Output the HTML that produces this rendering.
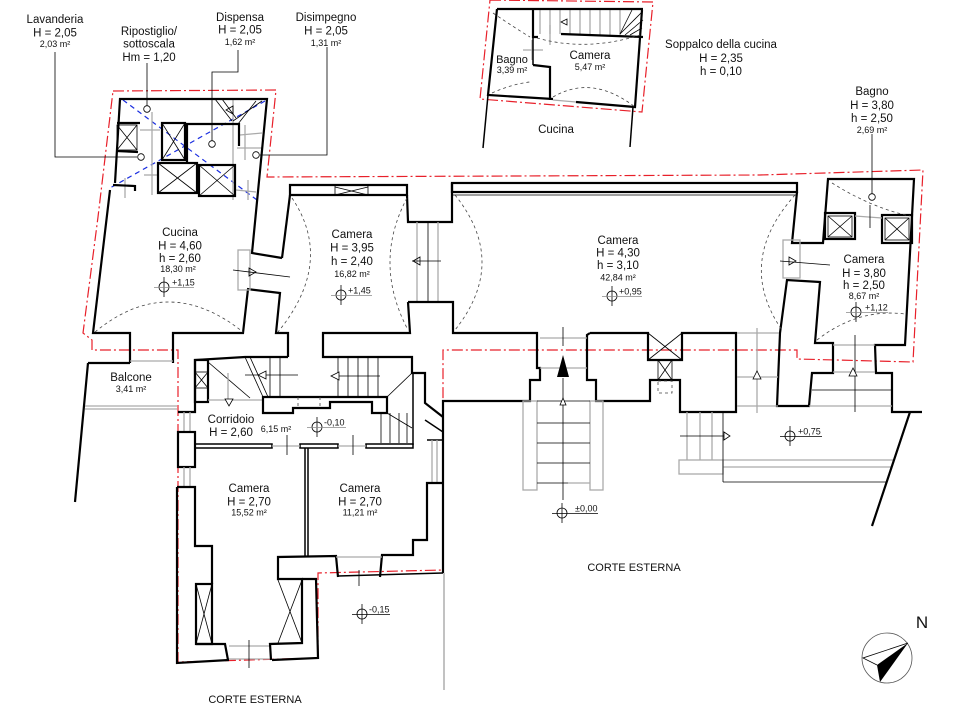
<!DOCTYPE html>
<html><head><meta charset="utf-8"><style>
html,body{margin:0;padding:0;background:#fff;}
svg{display:block;}
.w{stroke:#000;stroke-width:2.2;fill:none;stroke-linejoin:miter;}
.m{stroke:#000;stroke-width:1.5;fill:none;}
.t{stroke:#000;stroke-width:0.8;fill:none;}
.g{stroke:#aaa;stroke-width:1.3;fill:none;}
.d{stroke:#444;stroke-width:0.8;stroke-dasharray:3 3;fill:none;}
.r{stroke:#e8202a;stroke-width:1.2;stroke-dasharray:11 3 2 3;fill:none;}
.b{stroke:#1a2ee0;stroke-width:1.2;stroke-dasharray:5 4;fill:none;}
text{font-family:"Liberation Sans",Arial,sans-serif;fill:#111;}
.L{font-size:11.5px;text-anchor:middle;}
.S{font-size:9px;text-anchor:middle;}
.P{font-size:9px;}
</style></head><body>
<svg width="971" height="709" viewBox="0 0 971 709" xmlns="http://www.w3.org/2000/svg">
<rect width="971" height="709" fill="#fff"/>

<!-- red dash-dot outlines -->
<polyline class="r" points="113,91 276,90 267,177 760,175 923,170 913,362 797,359 797,350 443,350 443,570 318,573 318,658 178,662 178,350 92,350 92,340 83,333 98,217 113,91"/>
<polygon class="r" points="490,0 653,2 642,112 480,99"/>

<!-- blue dashed diagonals -->
<line class="b" x1="123" y1="100" x2="257" y2="200"/>
<line class="b" x1="265" y1="101" x2="110" y2="188"/>

<!-- utility block gray grid -->
<g class="g">
<line x1="152" y1="112" x2="152" y2="195"/>
<line x1="233" y1="100" x2="233" y2="200"/>
<line x1="245" y1="125" x2="245" y2="160"/>
<line x1="140" y1="130" x2="160" y2="130"/>
<line x1="240" y1="135" x2="262" y2="133"/>
<line x1="237" y1="148" x2="262" y2="148"/>
<line x1="144" y1="175" x2="158" y2="175"/>
<line x1="236" y1="190" x2="256" y2="192"/>
<line x1="248" y1="180" x2="248" y2="200"/>
<line x1="125" y1="178" x2="125" y2="198"/>
</g>
<g class="t">
<line x1="215" y1="99" x2="232" y2="121"/>
<line x1="222" y1="99" x2="236" y2="118"/>
<line x1="262" y1="101" x2="233" y2="121"/>
<line x1="256" y1="101" x2="238" y2="124"/>
<polygon points="226,110 233,106 233,114"/>
</g>

<!-- utility block walls -->
<polyline class="w" points="115,183 120,99 267,99 252,253 282,258"/>
<polyline class="w" points="113,185 135,186 135,191"/>
<polyline class="w" points="117,123 140,123"/>
<polyline class="w" points="117,151 138,152"/>
<rect class="t" x="117" y="125" width="20" height="25"/>
<line class="t" x1="117" y1="125" x2="137" y2="150"/><line class="t" x1="137" y1="125" x2="117" y2="150"/>
<rect class="w" x="162" y="123" width="23" height="37"/>
<line class="t" x1="162" y1="123" x2="185" y2="160"/><line class="t" x1="185" y1="123" x2="162" y2="160"/>
<polyline class="w" points="187,162 187,124 239,124 239,146"/>
<rect class="w" x="158" y="163" width="39" height="30"/>
<line class="t" x1="158" y1="163" x2="197" y2="193"/><line class="t" x1="197" y1="163" x2="158" y2="193"/>
<rect class="w" x="199" y="165" width="36" height="31"/>
<line class="t" x1="199" y1="165" x2="235" y2="196"/><line class="t" x1="235" y1="165" x2="199" y2="196"/>

<!-- leaders -->
<polyline class="t" points="55,52 55,157 137,157"/><circle class="t" cx="141" cy="157" r="3.3" fill="#fff"/>
<line class="t" x1="147" y1="63" x2="147" y2="106"/><circle class="t" cx="147" cy="109" r="3.3" fill="#fff"/>
<polyline class="t" points="238,50 238,72 212,72 212,141"/><circle class="t" cx="212" cy="144" r="3.3" fill="#fff"/>
<polyline class="t" points="327,47 327,155 260,155"/><circle class="t" cx="256" cy="155" r="3.3" fill="#fff"/>
<line class="t" x1="872" y1="134" x2="872" y2="194"/><circle class="t" cx="872" cy="197" r="3.3" fill="#fff"/>

<!-- Soppalco block -->
<g class="g">
<line x1="540" y1="10" x2="540" y2="34"/><line x1="550" y1="10" x2="550" y2="34"/>
<line x1="560" y1="10" x2="560" y2="34"/><line x1="570" y1="10" x2="570" y2="35"/>
<line x1="580" y1="10" x2="580" y2="35"/><line x1="590" y1="10" x2="590" y2="35"/>
<line x1="600" y1="10" x2="600" y2="35"/><line x1="610" y1="10" x2="610" y2="35"/>
<line x1="620" y1="10" x2="620" y2="35"/>
<line x1="523" y1="50" x2="543" y2="50"/><line x1="532" y1="40" x2="532" y2="60"/>
<line x1="550" y1="25" x2="550" y2="45"/>
<line x1="553" y1="100" x2="576" y2="102"/>
</g>
<g class="t">
<line x1="620" y1="34" x2="642" y2="12"/><line x1="625" y1="35" x2="643" y2="20"/>
<line x1="630" y1="35" x2="642" y2="28"/><line x1="620" y1="34" x2="632" y2="10"/>
<polygon points="561,22 567,19 567,25"/>
</g>
<polyline class="w" points="497,9 643,9"/>
<polyline class="w" points="642,10 635,107 576,102"/>
<polyline class="w" points="497,9 488,95 553,99"/>
<polyline class="w" points="533,9 533,37 538,37"/>
<polyline class="w" points="533,65 550,67 550,100"/>
<line class="m" x1="533" y1="37" x2="533" y2="65"/>
<polyline class="w" points="561,34 643,37"/>
<line class="m" x1="488" y1="95" x2="483" y2="148"/>
<line class="m" x1="633" y1="107" x2="630" y2="147"/>
<path class="d" d="M493,13 Q515,28 530,37"/>
<path class="d" d="M492,93 Q512,84 530,82"/>
<path class="d" d="M537,38 Q587,52 640,35"/>
<path class="d" d="M553,97 Q592,74 635,107"/>

<!-- Cucina / Camera 3.95 walls -->
<polyline class="w" points="110,190 93,333 130,333 130,363"/>
<polyline class="w" points="173,363 173,333 243,333 248,289"/>
<polyline class="w" points="247,289 280,293 276,333 288,333 288,357"/>
<polygon class="w" points="290,185 407,185 407,195 290,195"/>
<line class="w" x1="290" y1="195" x2="282" y2="258"/>
<line class="t" x1="335" y1="185" x2="335" y2="195"/><line class="t" x1="368" y1="185" x2="368" y2="195"/>
<line class="t" x1="335" y1="187" x2="368" y2="195"/><line class="t" x1="335" y1="195" x2="368" y2="187"/>
<polyline class="w" points="407,195 408,222 452,222 452,183"/>
<!-- door cucina-camera -->
<rect class="g" x="238" y="250" width="12" height="40"/>
<line class="t" x1="233" y1="270" x2="290" y2="277"/>
<polygon class="t" points="249,268 256,272 249,276" fill="#fff"/>
<!-- passage 3.95 - 4.30 -->
<line class="g" x1="417" y1="222" x2="417" y2="302"/>
<line class="t" x1="428" y1="222" x2="428" y2="302"/>
<line class="g" x1="438" y1="222" x2="438" y2="302"/>
<line class="t" x1="412" y1="261" x2="441" y2="261"/>
<polygon class="t" points="413,261 420,257 420,265" fill="#fff"/>

<!-- Camera 4.30 -->
<rect class="w" x="452" y="183" width="345" height="9"/>
<line class="t" x1="452" y1="195" x2="797" y2="195"/>
<polyline class="w" points="797,192 792,243 823,243 828,179 914,179 905,345 875,345 876,373 892,373 892,412 922,412"/>
<polygon class="w" points="820,282 787,280 780,333 777,406 809,406 812,373 833,373 833,343 815,343"/>
<rect class="g" x="783" y="240" width="17" height="38"/>
<line class="t" x1="780" y1="261" x2="830" y2="265"/>
<polygon class="t" points="789,257 796,261 789,265" fill="#fff"/>
<polyline class="w" points="408,302 453,302 453,333 537,333 537,368 540,368 540,380 530,380 530,401 443,401 443,573"/>
<polyline class="w" points="408,302 410,333 323,333 323,357 412,357 412,373 425,373 425,403 443,417"/>
<line class="m" x1="425" y1="420" x2="443" y2="432"/>
<line class="m" x1="413" y1="373" x2="413" y2="445"/>
<polyline class="w" points="590,333 648,333 648,360 682,360 682,333 736,333 736,412 680,412 680,380 650,380 650,401 596,401 596,380 587,380 587,335 590,333"/>
<line class="t" x1="648" y1="333" x2="682" y2="360"/><line class="t" x1="682" y1="333" x2="648" y2="360"/>
<rect class="t" x="658" y="360" width="14" height="20"/>
<line class="t" x1="658" y1="360" x2="672" y2="380"/><line class="t" x1="672" y1="360" x2="658" y2="380"/>
<rect class="d" x="658" y="381" width="14" height="12"/>
<line class="g" x1="737" y1="333" x2="779" y2="333"/>

<!-- entrance -->
<line class="g" x1="540" y1="338" x2="587" y2="338"/>
<line class="g" x1="540" y1="368" x2="587" y2="368"/>
<line class="t" x1="563" y1="327" x2="563" y2="346"/>
<line class="t" x1="563" y1="378" x2="563" y2="500"/>
<polygon points="563,355 557,377 569,377" fill="#000"/>
<rect class="g" x="523" y="401" width="14" height="89"/>
<rect class="g" x="590" y="401" width="13" height="89"/>
<g class="t">
<line x1="537" y1="401" x2="590" y2="401"/>
<line x1="537" y1="423" x2="590" y2="423"/><line x1="537" y1="443" x2="590" y2="443"/>
<line x1="537" y1="463" x2="590" y2="463"/><line x1="537" y1="483" x2="568" y2="483"/>
<polygon points="560,405 563,398 566,405" fill="#fff"/>
</g>
<line class="g" x1="568" y1="483" x2="590" y2="483"/>

<!-- right lower -->
<g class="g">
<line x1="737" y1="377" x2="778" y2="377"/><line x1="737" y1="406" x2="778" y2="406"/>
<line x1="757" y1="328" x2="757" y2="413"/>
<line x1="833" y1="345" x2="875" y2="345"/><line x1="833" y1="372" x2="875" y2="372"/>
<line x1="809" y1="406" x2="892" y2="406"/>
<line x1="687" y1="412" x2="687" y2="460"/><line x1="700" y1="412" x2="700" y2="460"/>
<line x1="712" y1="412" x2="712" y2="460"/>
<rect x="679" y="460" width="44" height="14"/>
<line x1="723" y1="460" x2="893" y2="460"/><line x1="723" y1="467" x2="891" y2="467"/>
</g>
<g class="t">
<line x1="855" y1="335" x2="855" y2="412"/>
<polygon points="753,379 757,371 761,379" fill="#fff"/>
<polygon points="849,376 853,368 857,376" fill="#fff"/>
<line x1="812" y1="390" x2="892" y2="390"/>
<line x1="723" y1="412" x2="723" y2="482"/>
<line x1="723" y1="482" x2="887" y2="482"/>
<line x1="680" y1="436" x2="725" y2="436"/>
<polygon points="724,432 730,436 724,440" fill="#fff"/>
</g>
<line class="w" x1="910" y1="412" x2="872" y2="526"/>

<!-- Camera 3.80 internals -->
<rect class="w" x="825" y="213" width="30" height="26"/>
<rect class="t" x="828" y="216" width="24" height="21"/>
<line class="t" x1="828" y1="216" x2="852" y2="237"/><line class="t" x1="852" y1="216" x2="828" y2="237"/>
<rect class="w" x="882" y="215" width="30" height="28"/>
<rect class="t" x="885" y="218" width="24" height="22"/>
<line class="t" x1="885" y1="218" x2="909" y2="240"/><line class="t" x1="909" y1="218" x2="885" y2="240"/>
<line class="g" x1="855" y1="216" x2="882" y2="218"/>
<line class="t" x1="870" y1="205" x2="870" y2="228"/>
<path class="d" d="M832,183 Q872,208 910,216"/>
<path class="d" d="M817,340 Q858,308 905,314"/>

<!-- dashed vault arcs -->
<path class="d" d="M95,332 Q168,272 243,332"/>
<path class="d" d="M292,198 Q335,262 278,332"/>
<path class="d" d="M407,198 Q373,262 407,328"/>
<path class="d" d="M455,195 Q509,262 455,330"/>
<path class="d" d="M795,195 Q735,262 782,330"/>

<!-- Balcone -->
<polyline class="w" points="88,363 130,363"/>
<line class="w" x1="88" y1="363" x2="75" y2="502"/>
<line class="g" x1="130" y1="361" x2="173" y2="361"/>
<line class="g" x1="85" y1="406" x2="177" y2="406"/>
<line class="g" x1="85" y1="409" x2="177" y2="409"/>

<!-- Corridor block -->
<polyline class="w" points="178,412 195,412 195,360 245,357 288,357"/>
<line class="g" x1="184" y1="412" x2="184" y2="432"/><line class="g" x1="190" y1="412" x2="190" y2="432"/>
<rect class="w" x="178" y="432" width="17" height="35"/>
<line class="g" x1="184" y1="467" x2="184" y2="487"/><line class="g" x1="190" y1="467" x2="190" y2="487"/>
<rect class="w" x="195" y="360" width="13" height="42"/>
<rect class="t" x="195" y="372" width="13" height="16"/>
<line class="t" x1="195" y1="372" x2="208" y2="388"/><line class="t" x1="208" y1="372" x2="195" y2="388"/>
<line class="t" x1="208" y1="362" x2="250" y2="398"/>
<line class="t" x1="245" y1="357" x2="263" y2="397"/>
<line class="t" x1="250" y1="357" x2="268" y2="397"/>
<line class="g" x1="208" y1="400" x2="263" y2="400"/>
<line class="g" x1="228" y1="373" x2="228" y2="400"/>
<polygon class="w" points="263,397 387,397 387,413 372,413 372,402 330,402 330,408 293,408 293,413 263,413"/>
<g class="t">
<line x1="270" y1="357" x2="270" y2="397"/><line x1="280" y1="357" x2="280" y2="397"/>
<line x1="338" y1="357" x2="338" y2="397"/><line x1="348" y1="357" x2="348" y2="397"/>
<line x1="358" y1="357" x2="358" y2="397"/><line x1="368" y1="357" x2="368" y2="397"/>
<line x1="378" y1="357" x2="378" y2="397"/>
<line x1="381" y1="413" x2="381" y2="443"/><line x1="390" y1="413" x2="390" y2="443"/>
<line x1="399" y1="413" x2="399" y2="443"/><line x1="407" y1="413" x2="407" y2="443"/>
<line x1="387" y1="397" x2="412" y2="373"/><line x1="387" y1="413" x2="412" y2="428"/>
<line x1="245" y1="375" x2="298" y2="375"/><line x1="333" y1="376" x2="380" y2="376"/>
<polygon points="258,375 266,371 266,379" fill="#fff"/>
<polygon points="331,376 339,372 339,380" fill="#fff"/>
<polygon points="225,399 233,399 229,406" fill="#fff"/>
</g>
<line class="d" x1="298" y1="397" x2="298" y2="408"/><line class="d" x1="320" y1="397" x2="320" y2="408"/>
<rect class="m" x="195" y="444" width="77" height="4"/>
<rect class="m" x="300" y="444" width="38" height="4"/>
<rect class="m" x="366" y="444" width="47" height="4"/>
<line class="g" x1="272" y1="446" x2="300" y2="446"/><line class="g" x1="338" y1="446" x2="366" y2="446"/>
<line class="t" x1="287" y1="435" x2="287" y2="455"/><line class="t" x1="353" y1="435" x2="353" y2="455"/>
<line class="m" x1="427" y1="440" x2="443" y2="440"/>
<line class="g" x1="432" y1="440" x2="432" y2="483"/><line class="g" x1="437" y1="440" x2="437" y2="483"/>

<!-- Camera 2.70 rooms -->
<polyline class="w" points="177,487 195,487 195,546 212,546 212,584"/>
<polyline class="w" points="177,487 177,663 229,660"/>
<rect class="w" x="196" y="584" width="16" height="60"/>
<line class="t" x1="196" y1="584" x2="212" y2="644"/><line class="t" x1="212" y1="584" x2="196" y2="644"/>
<polyline class="w" points="196,644 225,644 228,660"/>
<line class="g" x1="229" y1="646" x2="271" y2="646"/><line class="g" x1="229" y1="659" x2="271" y2="659"/>
<line class="t" x1="249" y1="640" x2="249" y2="668"/>
<polyline class="w" points="271,660 270,644 302,643 302,579 278,579 278,557 336,556 338,577"/>
<polyline class="w" points="272,660 318,658 316,579 302,579"/>
<line class="t" x1="278" y1="580" x2="302" y2="643"/><line class="t" x1="302" y1="580" x2="278" y2="643"/>
<line class="m" x1="305" y1="448" x2="305" y2="557"/><line class="m" x1="308" y1="448" x2="308" y2="557"/>
<polyline class="w" points="380,577 382,555 413,555 413,540 427,540 427,483 443,483"/>
<line class="g" x1="336" y1="557" x2="382" y2="557"/>
<line class="m" x1="338" y1="576" x2="443" y2="573"/>
<line class="t" x1="359" y1="570" x2="359" y2="586"/>
<line x1="444" y1="573" x2="444" y2="690" stroke="#999" stroke-width="1.2"/>

<!-- spot elevations -->
<g class="t">
<circle cx="164" cy="287" r="5"/><line x1="164" y1="277" x2="164" y2="297"/><line x1="154" y1="287.5" x2="194" y2="287.5" stroke="#888"/>
<circle cx="341" cy="295" r="5"/><line x1="341" y1="285" x2="341" y2="305"/><line x1="331" y1="295.5" x2="372" y2="295.5" stroke="#888"/>
<circle cx="612" cy="296" r="5"/><line x1="612" y1="286" x2="612" y2="306"/><line x1="602" y1="296.5" x2="642" y2="296.5" stroke="#888"/>
<circle cx="856" cy="312" r="5"/><line x1="856" y1="302" x2="856" y2="322"/><line x1="846" y1="312.5" x2="888" y2="312.5" stroke="#888"/>
<circle cx="317" cy="427" r="5"/><line x1="317" y1="417" x2="317" y2="437"/><line x1="307" y1="427.5" x2="346" y2="427.5" stroke="#888"/>
<circle cx="562" cy="513" r="5"/><line x1="562" y1="503" x2="562" y2="523"/><line x1="552" y1="513.5" x2="598" y2="513.5"/>
<circle cx="790" cy="436" r="5"/><line x1="790" y1="426" x2="790" y2="446"/><line x1="780" y1="436.5" x2="822" y2="436.5"/>
<circle cx="362" cy="614" r="5"/><line x1="362" y1="604" x2="362" y2="624"/><line x1="352" y1="614.5" x2="390" y2="614.5"/>
</g>
<text class="P" x="172" y="285.5">+1,15</text>
<text class="P" x="348" y="293.5">+1,45</text>
<text class="P" x="619" y="294.5">+0,95</text>
<text class="P" x="865" y="310.5">+1,12</text>
<text class="P" x="324" y="425.5">-0,10</text>
<text class="P" x="575" y="511.5">±0,00</text>
<text class="P" x="798" y="434.5">+0,75</text>
<text class="P" x="369" y="612.5">-0,15</text>

<!-- compass -->
<circle cx="887" cy="658" r="25" fill="none" stroke="#555" stroke-width="0.8"/>
<polyline class="t" points="877,665 863,658 908,643"/>
<polygon points="908,643 877,665 880,682" fill="#000"/>
<text x="922" y="628" style="font-size:17px;text-anchor:middle;">N</text>

<!-- labels -->
<text class="L" x="55" y="23">Lavanderia</text>
<text class="L" x="55" y="36.5">H = 2,05</text>
<text class="S" x="55" y="47">2,03 m²</text>
<text class="L" x="149" y="35">Ripostiglio/</text>
<text class="L" x="149" y="47.5">sottoscala</text>
<text class="L" x="149" y="61">Hm = 1,20</text>
<text class="L" x="240" y="21">Dispensa</text>
<text class="L" x="240" y="33.5">H = 2,05</text>
<text class="S" x="240" y="45">1,62 m²</text>
<text class="L" x="326" y="21">Disimpegno</text>
<text class="L" x="326" y="34.5">H = 2,05</text>
<text class="S" x="326" y="46">1,31 m²</text>

<text x="512" y="63" style="font-size:11px;text-anchor:middle;">Bagno</text>
<text class="S" x="512" y="73">3,39 m²</text>
<text class="L" x="590" y="59">Camera</text>
<text class="S" x="590" y="70">5,47 m²</text>
<text class="L" x="556" y="133">Cucina</text>
<text class="L" x="721" y="48">Soppalco della cucina</text>
<text class="L" x="721" y="62">H = 2,35</text>
<text class="L" x="721" y="75">h = 0,10</text>

<text class="L" x="872" y="95">Bagno</text>
<text class="L" x="872" y="109">H = 3,80</text>
<text class="L" x="872" y="122">h = 2,50</text>
<text class="S" x="872" y="133">2,69 m²</text>

<text class="L" x="180" y="236">Cucina</text>
<text class="L" x="180" y="249.5">H = 4,60</text>
<text class="L" x="180" y="262">h = 2,60</text>
<text class="S" x="178" y="272">18,30 m²</text>

<text class="L" x="352" y="238">Camera</text>
<text class="L" x="352" y="251.5">H = 3,95</text>
<text class="L" x="352" y="265">h = 2,40</text>
<text class="S" x="352" y="277">16,82 m²</text>

<text class="L" x="618" y="244">Camera</text>
<text class="L" x="618" y="256.5">H = 4,30</text>
<text class="L" x="618" y="269">h = 3,10</text>
<text class="S" x="618" y="280.5">42,84 m²</text>

<text class="L" x="864" y="263">Camera</text>
<text class="L" x="864" y="277">H = 3,80</text>
<text class="L" x="864" y="289">h = 2,50</text>
<text class="S" x="864" y="299">8,67 m²</text>

<text class="L" x="131" y="381">Balcone</text>
<text class="S" x="131" y="392">3,41 m²</text>

<text class="L" x="231" y="423">Corridoio</text>
<text class="L" x="231" y="436">H = 2,60</text>
<text class="S" x="276" y="432">6,15 m²</text>

<text class="L" x="249" y="492">Camera</text>
<text class="L" x="249" y="505.5">H = 2,70</text>
<text class="S" x="249" y="515.5">15,52 m²</text>
<text class="L" x="360" y="492">Camera</text>
<text class="L" x="360" y="505.5">H = 2,70</text>
<text class="S" x="360" y="515.5">11,21 m²</text>

<text x="634" y="571" style="font-size:11px;text-anchor:middle;">CORTE ESTERNA</text>
<text x="255" y="703" style="font-size:11px;text-anchor:middle;">CORTE ESTERNA</text>
</svg>
</body></html>
